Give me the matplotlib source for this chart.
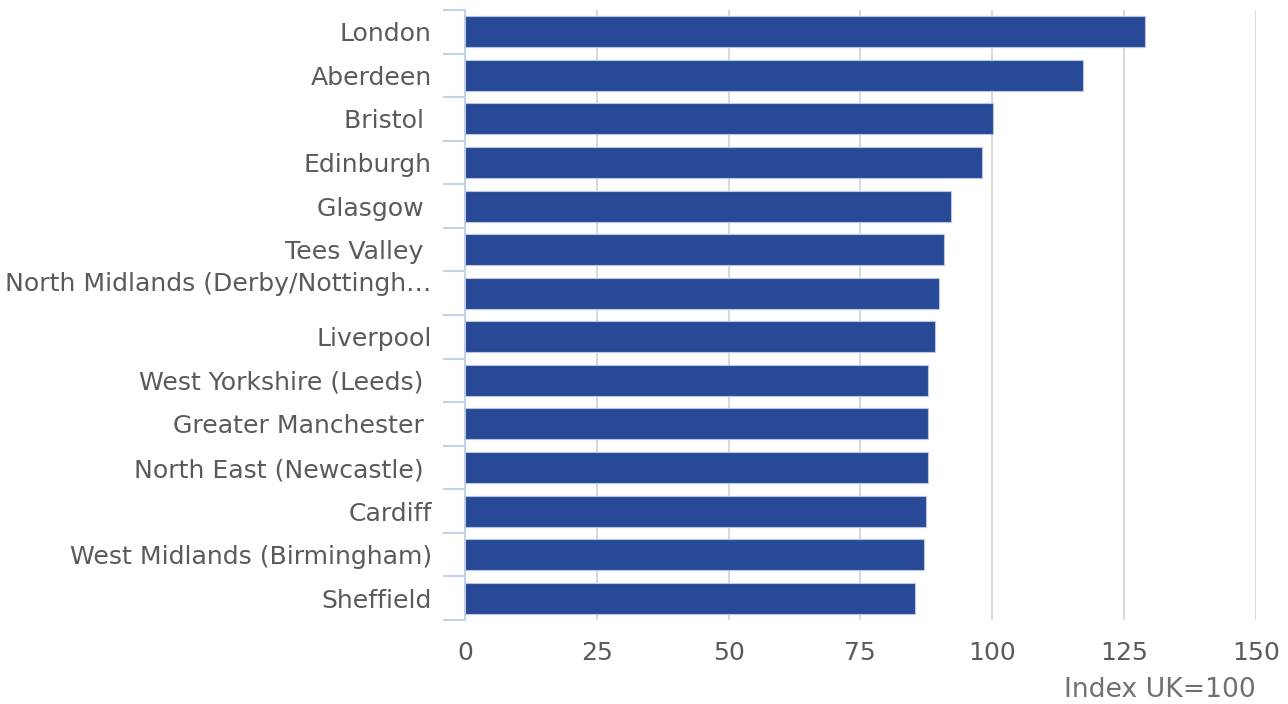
import matplotlib

matplotlib.use("Agg")
import matplotlib.pyplot as plt  # noqa: E402
import numpy as np  # noqa: E402

# Cities, top to bottom, with index values (UK = 100)
cities = [
    "London",
    "Aberdeen",
    "Bristol ",
    "Edinburgh",
    "Glasgow ",
    "Tees Valley ",
    "North Midlands (Derby/Nottingh\u2026\n",
    "Liverpool",
    "West Yorkshire (Leeds) ",
    "Greater Manchester ",
    "North East (Newcastle) ",
    "Cardiff",
    "West Midlands (Birmingham)",
    "Sheffield",
]
index_values = [129.0, 117.3, 100.2, 98.0, 92.1, 90.8, 90.0, 89.1, 87.9, 87.9, 87.9, 87.4, 87.0, 85.3]
x_ticks = [0, 25, 50, 75, 100, 125, 150]

BAR_COLOR = "#274996"
TEXT_COLOR = "#5a5a5a"
LABEL_COLOR = "#707070"
AXIS_COLOR = "#c3d1e4"
GRID_COLOR = "#d9d9d9"

fig = plt.figure(figsize=(12.88, 7.04), dpi=100)
ax = fig.add_axes([0.361, 0.1193, 0.614, 0.8665])

y = np.arange(len(cities))
ax.barh(y, index_values, height=0.71, color=BAR_COLOR, edgecolor="#b9c6e4", linewidth=0.8, zorder=3)

ax.set_ylim(len(cities) - 0.5, -0.5)
ax.set_xlim(0, 150)
ax.set_xticks(x_ticks)
ax.set_xticklabels([str(t) for t in x_ticks])
ax.set_yticks(y)
ax.set_yticklabels(cities)

# category boundary ticks on the left axis
ax.set_yticks(np.arange(len(cities) + 1) - 0.5, minor=True)
ax.tick_params(axis="y", which="minor", length=16, width=1.5, color=AXIS_COLOR)
ax.tick_params(axis="y", which="major", length=0, pad=24, labelsize=18.1, labelcolor=TEXT_COLOR)
ax.tick_params(axis="x", which="major", length=0, pad=15, labelsize=18.1, labelcolor=TEXT_COLOR)

ax.grid(axis="x", color=GRID_COLOR, linewidth=1.5, zorder=0)
ax.set_axisbelow(True)

for side in ("top", "right", "bottom"):
    ax.spines[side].set_visible(False)
ax.spines["left"].set_color(AXIS_COLOR)
ax.spines["left"].set_linewidth(1.5)

ax.set_xlabel("Index UK=100", loc="right", fontsize=19.2, color=LABEL_COLOR, labelpad=9)

fig.savefig("out.png", dpi=100)
plt.close(fig)
